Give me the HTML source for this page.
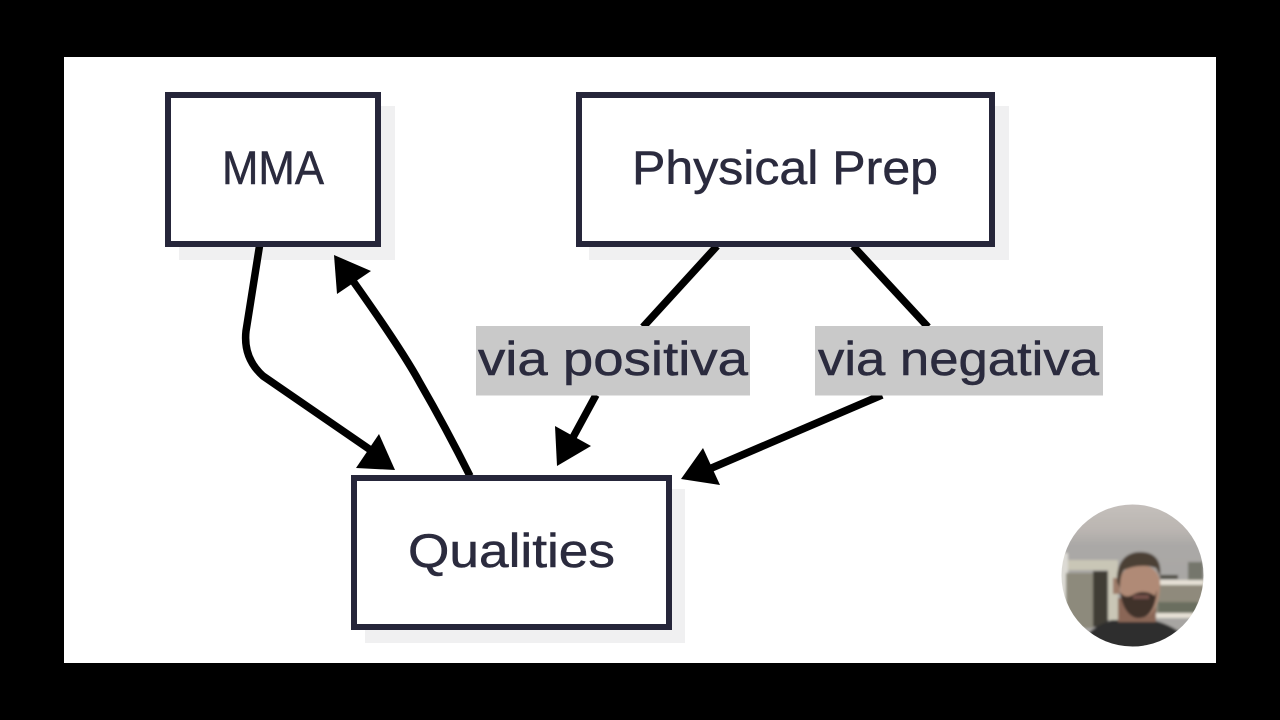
<!DOCTYPE html>
<html>
<head>
<meta charset="utf-8">
<style>
html,body{margin:0;padding:0;background:#000;width:1280px;height:720px;overflow:hidden}
svg{display:block}
text{font-family:"Liberation Sans",sans-serif;fill:#2b2b3e;stroke:#2b2b3e;stroke-width:.5px;font-size:47px}
</style>
</head>
<body>
<svg width="1280" height="720" viewBox="0 0 1280 720" xmlns="http://www.w3.org/2000/svg">
<defs>
<clipPath id="c"><circle cx="1132.5" cy="575.5" r="71"/></clipPath>
<filter id="b" x="-10%" y="-10%" width="120%" height="120%"><feGaussianBlur stdDeviation="1.2"/></filter>
<linearGradient id="w" x1="0" y1="0" x2="0" y2="1"><stop offset="0" stop-color="#c6c1bd"/><stop offset=".2" stop-color="#bab5b1"/><stop offset=".3" stop-color="#aaa8a6"/><stop offset="1" stop-color="#a6a4a1"/></linearGradient>
</defs>
<rect width="1280" height="720" fill="#000"/>
<rect x="64" y="57" width="1152" height="606" fill="#fff"/>

<!-- shadows -->
<rect x="179" y="106" width="216" height="154" fill="#f0f0f1"/>
<rect x="589" y="106" width="420" height="154" fill="#f0f0f1"/>
<rect x="365" y="489" width="320" height="154" fill="#f0f0f1"/>

<!-- connectors -->
<g fill="none" stroke="#000" stroke-width="7.500">
<path d="M259.500 246 L246 331 Q243 358 263 376 L372 451"/>
<path d="M470 476 Q446 428 420 383 Q402 350 353 281"/>
<path d="M717 246 L643 327"/>
<path d="M596 395 L571 441"/>
<path d="M853 246 L928 327"/>
<path d="M882 395 L707 470"/>
</g>
<g fill="#000">
<polygon points="395,470 379,434 356,468"/>
<polygon points="334,255 371,271 337,294"/>
<polygon points="557,466 555,426 591,446"/>
<polygon points="681,479 703,448 720,485"/>
</g>

<!-- boxes -->
<g fill="#fff" stroke="#26263a" stroke-width="6">
<rect x="168" y="95" width="210" height="149"/>
<rect x="579" y="95" width="413" height="149"/>
<rect x="354" y="478" width="315" height="149"/>
</g>

<!-- labels -->
<rect x="476" y="326" width="274" height="69.500" fill="#c9c9c9"/>
<rect x="815" y="326" width="288" height="69.500" fill="#c9c9c9"/>

<text x="222" y="184" textLength="102" lengthAdjust="spacingAndGlyphs">MMA</text>
<text x="632" y="184" textLength="306" lengthAdjust="spacingAndGlyphs">Physical Prep</text>
<text x="408" y="567" textLength="207" lengthAdjust="spacingAndGlyphs">Qualities</text>
<text x="478" y="375" textLength="270" lengthAdjust="spacingAndGlyphs">via positiva</text>
<text x="818" y="375" textLength="281" lengthAdjust="spacingAndGlyphs">via negativa</text>

<!-- webcam avatar -->
<g clip-path="url(#c)">
<g filter="url(#b)">
<rect x="1058" y="500" width="150" height="152" fill="url(#w)"/>
<rect x="1060" y="553" width="8" height="60" fill="#dcdad4"/>
<rect x="1068" y="560" width="50" height="10" fill="#c9c6b6"/>
<rect x="1108" y="570" width="10" height="50" fill="#c9c6b6"/>
<rect x="1093" y="571" width="15" height="56" fill="#403c36"/>
<rect x="1066" y="573" width="27" height="55" fill="#8d8a7c"/>
<rect x="1155" y="585" width="50" height="30" fill="#8f8a7c"/>
<rect x="1160" y="580" width="44" height="5" fill="#e6e1d6"/>
<rect x="1155" y="613" width="44" height="5" fill="#e6e1d6"/>
<rect x="1158" y="602" width="40" height="11" fill="#6a6e5e"/>
<rect x="1188" y="562" width="15" height="18" fill="#74766c"/>
<rect x="1160" y="575" width="18" height="4" fill="#4d4b42"/>
<path d="M1083 640 Q1092 626 1112 620 L1152 620 Q1170 624 1182 634 L1182 652 L1083 652 Z" fill="#2e2e2f"/>
<path d="M1118 598 L1156 598 L1156 622 L1118 622 Z" fill="#8a6656"/>
<path d="M1120 582 C1120 560 1158 558 1160 582 C1161 600 1154 618 1140 618 C1126 618 1120 600 1120 582 Z" fill="#b08a76"/>
<path d="M1113 578 h7 v16 h-7 z" fill="#9c7a68"/>
<path d="M1117 582 C1116 558 1130 552 1140 552 C1156 552 1162 562 1160 576 L1156 568 C1146 564 1132 566 1124 570 C1121 574 1120 580 1120 588 Z" fill="#4b3f36"/>
<path d="M1120 592 C1124 598 1130 597 1134 594 C1142 590 1150 592 1155 596 L1157 590 C1156 606 1150 618 1140 618 C1130 619 1122 608 1120 592 Z" fill="#40322b"/>
<path d="M1133 595 h16 v4 h-16 z" fill="#73504a"/>
</g>
</g>
</svg>
</body>
</html>
